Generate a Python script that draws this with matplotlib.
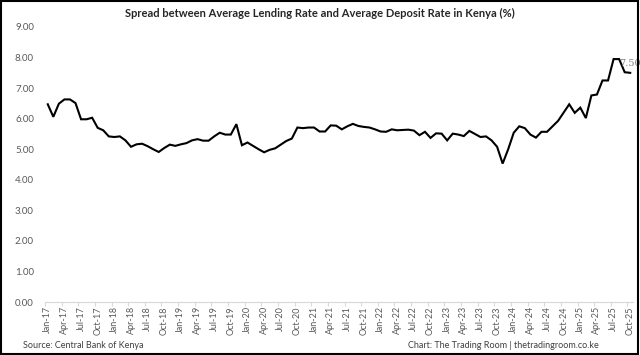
import matplotlib
matplotlib.use("Agg")
import matplotlib.pyplot as plt
from matplotlib.patches import Rectangle
import numpy as np

plt.rcParams['font.family'] = ['Lato', 'DejaVu Sans']

# Monthly spread (%), Jan-17 .. Oct-25
spread = [
    # 2017
    6.47, 6.06, 6.49, 6.63, 6.63, 6.51, 5.98, 5.98, 6.03, 5.70, 5.62, 5.42,
    # 2018
    5.40, 5.42, 5.29, 5.08, 5.16, 5.18, 5.10, 5.00, 4.91, 5.04, 5.15, 5.11,
    # 2019
    5.16, 5.20, 5.29, 5.33, 5.28, 5.28, 5.42, 5.54, 5.48, 5.48, 5.82, 5.13,
    # 2020
    5.22, 5.11, 5.00, 4.90, 4.98, 5.03, 5.15, 5.27, 5.35, 5.71, 5.69, 5.71,
    # 2021
    5.71, 5.58, 5.58, 5.78, 5.77, 5.65, 5.75, 5.83, 5.76, 5.73, 5.71, 5.65,
    # 2022
    5.58, 5.57, 5.65, 5.62, 5.63, 5.64, 5.61, 5.46, 5.57, 5.37, 5.52, 5.51,
    # 2023
    5.29, 5.51, 5.48, 5.43, 5.60, 5.50, 5.40, 5.42, 5.29, 5.08, 4.53, 5.00,
    # 2024
    5.54, 5.75, 5.69, 5.48, 5.38, 5.57, 5.57, 5.75, 5.93, 6.20, 6.47, 6.19,
    # 2025
    6.36, 6.02, 6.76, 6.79, 7.25, 7.25, 7.95, 7.95, 7.52, 7.50,
]
months = ['Jan', 'Feb', 'Mar', 'Apr', 'May', 'Jun', 'Jul', 'Aug', 'Sep', 'Oct', 'Nov', 'Dec']
years = list(range(17, 26))
month_labels = [f"{m}-{y}" for y in years for m in months][:len(spread)]

title = "Spread between Average Lending Rate and Average Deposit Rate in Kenya (%)"
source = "Source: Central Bank of Kenya"
credit = "Chart: The Trading Room | thetradingroom.co.ke"
y_ticks = [0, 1, 2, 3, 4, 5, 6, 7, 8, 9]

fig = plt.figure(figsize=(6.4, 3.55), dpi=100)
ax = fig.add_axes([45/640, 53/355, (633-45)/640, (302-27)/355])

x = np.arange(len(spread))
ax.plot(x, spread, color='black', linewidth=1.5, solid_joinstyle='miter')

ax.set_xlim(-0.5, len(spread) - 0.5)
ax.set_ylim(0, 9)
ax.set_yticks(y_ticks)
ax.set_yticklabels([f"{v:.2f}" for v in y_ticks])

lab_idx = list(range(0, len(spread), 3))
ax.set_xticks(lab_idx)
ax.set_xticklabels([month_labels[i] for i in lab_idx], rotation=90)
ax.set_xticks([i - 0.5 for i in lab_idx], minor=True)

ax.tick_params(axis='x', which='major', length=0, pad=3, labelsize=6.5, labelcolor='#595959')
ax.tick_params(axis='x', which='minor', length=3, color='#d9d9d9', width=0.8)
ax.tick_params(axis='y', length=0, pad=8, labelsize=7, labelcolor='#595959')

for s in ['top', 'right', 'left']:
    ax.spines[s].set_visible(False)
ax.spines['bottom'].set_color('#d9d9d9')
ax.spines['bottom'].set_linewidth(0.8)

ax.annotate(f"{spread[-1]:.2f}", xy=(x[-1], spread[-1]), xytext=(0, 9),
            textcoords='offset pixels', ha='center', va='center',
            fontsize=7, color='#7f7f7f', family=['DejaVu Serif'])

fig.text(320/640, 1 - 13/355, title, ha='center', va='center',
         fontsize=8, fontweight='bold', color='#262626')
fig.text(23/640, 1 - 345/355, source, ha='left', va='center', fontsize=6.5, color='#404040')
fig.text(408/640, 1 - 345/355, credit, ha='left', va='center', fontsize=6.5, color='#404040')

fig.add_artist(Rectangle((0.002, 0.003), 0.995, 0.994, transform=fig.transFigure,
                         fill=False, edgecolor='black', linewidth=1.5))

fig.savefig('out.png', dpi=100)
